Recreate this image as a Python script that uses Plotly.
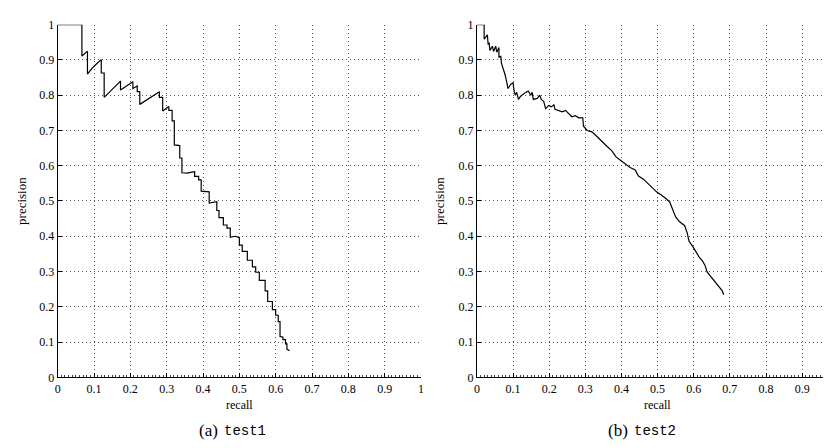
import plotly.graph_objects as go

# ---- data: panel (a) test1 ----
recall_a = [0.0, 0.0667, 0.0667, 0.082, 0.082, 0.095, 0.108, 0.12, 0.12, 0.128, 0.128,
            0.173, 0.173, 0.207, 0.207, 0.219, 0.219, 0.226, 0.226, 0.28, 0.28, 0.289, 0.289,
            0.306, 0.306, 0.315, 0.315, 0.321, 0.321, 0.336, 0.336, 0.342, 0.342,
            0.356, 0.37, 0.377, 0.377, 0.388, 0.388, 0.395, 0.395, 0.406, 0.417, 0.417,
            0.432, 0.438, 0.438, 0.444, 0.444, 0.456, 0.456, 0.466, 0.466, 0.475, 0.475,
            0.489, 0.5, 0.5, 0.508, 0.508, 0.522, 0.522, 0.536, 0.536, 0.545, 0.545,
            0.555, 0.555, 0.571, 0.571, 0.578, 0.578, 0.591, 0.591, 0.6, 0.6, 0.607, 0.607,
            0.612, 0.612, 0.62, 0.62, 0.627, 0.627, 0.631, 0.631, 0.638]
precision_a = [1.0, 1.0, 0.911, 0.925, 0.86, 0.877, 0.89, 0.901, 0.863, 0.863, 0.794,
               0.84, 0.815, 0.838, 0.819, 0.826, 0.81, 0.81, 0.774, 0.81, 0.794, 0.794, 0.755,
               0.768, 0.757, 0.757, 0.727, 0.727, 0.659, 0.657, 0.622, 0.622, 0.58,
               0.579, 0.582, 0.583, 0.57, 0.57, 0.56, 0.56, 0.528, 0.526, 0.526, 0.494,
               0.496, 0.498, 0.473, 0.473, 0.453, 0.453, 0.432, 0.432, 0.423, 0.423, 0.397,
               0.4, 0.396, 0.375, 0.375, 0.357, 0.357, 0.332, 0.332, 0.313, 0.313, 0.298,
               0.298, 0.275, 0.275, 0.245, 0.245, 0.215, 0.215, 0.192, 0.192, 0.176, 0.176, 0.158,
               0.158, 0.116, 0.114, 0.107, 0.107, 0.095, 0.095, 0.08, 0.075]

# ---- data: panel (b) test2 ----
recall_b = [0.0, 0.02, 0.02, 0.029, 0.031, 0.034, 0.036, 0.043, 0.046, 0.052, 0.055, 0.061,
            0.061, 0.066, 0.068, 0.073, 0.078, 0.083, 0.086, 0.094, 0.1, 0.103, 0.106, 0.11,
            0.115, 0.121, 0.128, 0.135, 0.142, 0.149, 0.153, 0.156, 0.167, 0.174, 0.178,
            0.185, 0.19, 0.199, 0.206, 0.213, 0.216, 0.227, 0.236, 0.245, 0.254, 0.263,
            0.272, 0.282, 0.293, 0.295, 0.305, 0.318, 0.328, 0.339, 0.35, 0.361, 0.373,
            0.385, 0.398, 0.413, 0.424, 0.438, 0.447, 0.461, 0.474, 0.486, 0.497, 0.511,
            0.523, 0.534, 0.543, 0.55, 0.561, 0.575, 0.582, 0.587, 0.598, 0.607, 0.615,
            0.624, 0.631, 0.637, 0.646, 0.653, 0.662, 0.672, 0.679, 0.683]
precision_b = [1.0, 1.0, 0.959, 0.971, 0.945, 0.947, 0.927, 0.939, 0.924, 0.939, 0.922, 0.935,
               0.908, 0.91, 0.89, 0.874, 0.858, 0.835, 0.819, 0.831, 0.835, 0.812, 0.8, 0.808,
               0.788, 0.797, 0.803, 0.808, 0.812, 0.8, 0.808, 0.788, 0.791, 0.8, 0.788,
               0.782, 0.762, 0.771, 0.767, 0.773, 0.76, 0.755, 0.753, 0.757, 0.748, 0.739,
               0.742, 0.736, 0.736, 0.712, 0.7, 0.696, 0.687, 0.675, 0.663, 0.654, 0.643,
               0.625, 0.615, 0.604, 0.595, 0.588, 0.571, 0.562, 0.549, 0.538, 0.526, 0.516,
               0.507, 0.496, 0.473, 0.455, 0.441, 0.43, 0.409, 0.386, 0.37, 0.354, 0.341,
               0.33, 0.318, 0.299, 0.288, 0.277, 0.266, 0.254, 0.245, 0.234]

tick_vals = [0, 0.1, 0.2, 0.3, 0.4, 0.5, 0.6, 0.7, 0.8, 0.9, 1]
tick_text = ["0", "0.1", "0.2", "0.3", "0.4", "0.5", "0.6", "0.7", "0.8", "0.9", "1"]
captions = [("(a)", "test1"), ("(b)", "test2")]

W, H = 831, 448
SERIF = "Liberation Serif"
MONO = "Liberation Mono"

fig = go.Figure()
fig.add_trace(go.Scatter(x=recall_a, y=precision_a, mode="lines",
                         line=dict(color="black", width=1.2), xaxis="x", yaxis="y",
                         showlegend=False, hoverinfo="skip"))
fig.add_trace(go.Scatter(x=recall_b, y=precision_b, mode="lines",
                         line=dict(color="black", width=1.2), xaxis="x2", yaxis="y2",
                         showlegend=False, hoverinfo="skip"))

y_bot = (H - 374) / H
y_top = (H - 10) / H

def xax(domain, rng, anchor):
    return dict(domain=domain, range=rng, anchor=anchor, tickvals=tick_vals, ticktext=tick_text,
                showline=True, linecolor="black", linewidth=1, mirror=False,
                ticks="inside", ticklen=4, tickcolor="black",
                showgrid=True, gridcolor="#555555", griddash="1px,3px", gridwidth=1,
                zeroline=False, tickfont=dict(family=SERIF, size=12, color="black"),
                minor=dict(dtick=0.01, ticks="inside", ticklen=2, tickcolor="#444444", showgrid=False),
                fixedrange=True)

def yax(rng, anchor):
    return dict(domain=[y_bot, y_top], range=rng, anchor=anchor, tickvals=tick_vals, ticktext=tick_text,
                showline=True, linecolor="black", linewidth=1, mirror=False,
                ticks="inside", ticklen=4, tickcolor="black",
                showgrid=True, gridcolor="#555555", griddash="1px,3px", gridwidth=1,
                zeroline=False, tickfont=dict(family=SERIF, size=12, color="black"),
                fixedrange=True)

right_end = (W - 469.3) / 364.0

fig.update_layout(
    width=W, height=H, autosize=False,
    margin=dict(l=0, r=0, t=0, b=0),
    paper_bgcolor="white", plot_bgcolor="white",
    font=dict(family=SERIF, color="black"),
    xaxis=xax([47 / W, 413 / W], [0, 1], "y"),
    yaxis=yax([0, 1], "x"),
    xaxis2=xax([469.3 / W, 1.0], [0, right_end], "y2"),
    yaxis2=yax([0, 1], "x2"),
)

ann = []
for xc in [10, 431]:
    ann.append(dict(text="precision", x=xc / W, y=(H - 192) / H, xref="paper", yref="paper",
                    textangle=-90, showarrow=False, xanchor="center", yanchor="middle",
                    font=dict(family=SERIF, size=13, color="black")))
for xc in [230, 651]:
    ann.append(dict(text="recall", x=xc / W, y=(H - 403) / H, xref="paper", yref="paper",
                    showarrow=False, xanchor="center", yanchor="middle",
                    font=dict(family=SERIF, size=12, color="black")))
for (lab, name), (xr, xl) in zip(captions, [(211, 213), (624, 626)]):
    ann.append(dict(text=lab, x=xr / W, y=(H - 429) / H, xref="paper", yref="paper",
                    showarrow=False, xanchor="right", yanchor="middle",
                    font=dict(family=SERIF, size=17, color="black")))
    ann.append(dict(text=name, x=xl / W, y=(H - 429) / H, xref="paper", yref="paper",
                    showarrow=False, xanchor="left", yanchor="middle",
                    font=dict(family=MONO, size=14, color="black")))
fig.update_layout(annotations=ann)

fig.write_html("out.html")
